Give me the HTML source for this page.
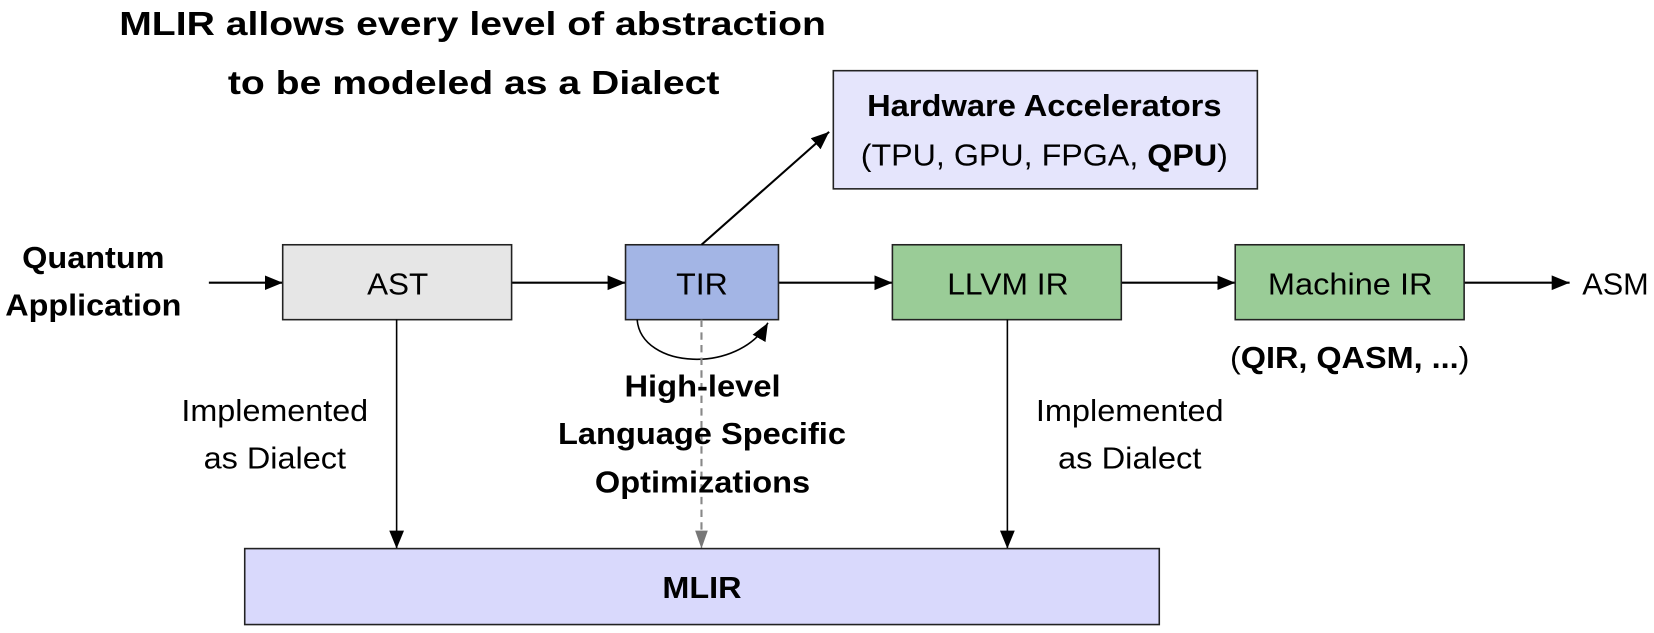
<!DOCTYPE html>
<html><head><meta charset="utf-8"><style>
html,body{margin:0;padding:0;background:#fff;}
svg{display:block;}
text{font-family:"Liberation Sans",Arial,sans-serif;fill:#000;}
</style></head><body>
<svg width="1654" height="633" viewBox="0 0 1568 600" preserveAspectRatio="none" xmlns="http://www.w3.org/2000/svg">
<defs>
<marker id="b" markerWidth="18" markerHeight="18" refX="17" refY="9" orient="auto" markerUnits="userSpaceOnUse" viewBox="0 0 18 18"><path d="M0,2 L17,9 L0,16 z" fill="#000"/></marker>
<marker id="g" markerWidth="18" markerHeight="18" refX="17" refY="9" orient="auto" markerUnits="userSpaceOnUse" viewBox="0 0 18 18"><path d="M0,3 L17,9 L0,15 z" fill="#777"/></marker>
</defs>
<g font-size="29" lengthAdjust="spacingAndGlyphs">
<text x="113" y="33" font-size="32" font-weight="bold" textLength="670" lengthAdjust="spacingAndGlyphs">MLIR allows every level of abstraction</text>
<text x="216" y="89" font-size="32" font-weight="bold" textLength="466" lengthAdjust="spacingAndGlyphs">to be modeled as a Dialect</text>

<rect x="790" y="67" width="402" height="112" fill="#e5e5fc" stroke="#222" stroke-width="1.5"/>
<text x="822" y="110" font-weight="bold" textLength="336" lengthAdjust="spacingAndGlyphs">Hardware Accelerators</text>
<text x="816" y="157" textLength="348" lengthAdjust="spacingAndGlyphs">(TPU, GPU, FPGA, <tspan font-weight="bold">QPU</tspan>)</text>

<text x="21" y="254" font-weight="bold" textLength="135" lengthAdjust="spacingAndGlyphs">Quantum</text>
<text x="5" y="299" font-weight="bold" textLength="167" lengthAdjust="spacingAndGlyphs">Application</text>

<line x1="198" y1="268" x2="268" y2="268" stroke="#000" stroke-width="2" marker-end="url(#b)"/>
<line x1="485" y1="268" x2="593" y2="268" stroke="#000" stroke-width="2" marker-end="url(#b)"/>
<line x1="738" y1="268" x2="846" y2="268" stroke="#000" stroke-width="2" marker-end="url(#b)"/>
<line x1="1063" y1="268" x2="1171" y2="268" stroke="#000" stroke-width="2" marker-end="url(#b)"/>
<line x1="1388" y1="268" x2="1488" y2="268" stroke="#000" stroke-width="2" marker-end="url(#b)"/>

<rect x="268" y="232" width="217" height="71" fill="#e6e6e6" stroke="#222" stroke-width="1.5"/>
<text x="348" y="279" textLength="58" lengthAdjust="spacingAndGlyphs">AST</text>
<rect x="593" y="232" width="145" height="71" fill="#a3b5e5" stroke="#222" stroke-width="1.5"/>
<text x="641" y="279" textLength="49" lengthAdjust="spacingAndGlyphs">TIR</text>
<rect x="846" y="232" width="217" height="71" fill="#9acc97" stroke="#222" stroke-width="1.5"/>
<text x="898" y="279" textLength="115" lengthAdjust="spacingAndGlyphs">LLVM IR</text>
<rect x="1171" y="232" width="217" height="71" fill="#9acc97" stroke="#222" stroke-width="1.5"/>
<text x="1202" y="279" textLength="156" lengthAdjust="spacingAndGlyphs">Machine IR</text>
<text x="1500" y="279" textLength="63" lengthAdjust="spacingAndGlyphs">ASM</text>

<text x="1166" y="349" textLength="227" lengthAdjust="spacingAndGlyphs">(<tspan font-weight="bold">QIR, QASM, ...</tspan>)</text>

<line x1="665" y1="232" x2="786" y2="125" stroke="#000" stroke-width="2" marker-end="url(#b)"/>
<path d="M604,303 C608,350 700,355 728,306" fill="none" stroke="#000" stroke-width="1.5" marker-end="url(#b)"/>

<line x1="665" y1="303" x2="665" y2="520" stroke="#888" stroke-width="2" stroke-dasharray="7,5" marker-end="url(#g)"/>
<line x1="376" y1="303" x2="376" y2="520" stroke="#000" stroke-width="1.5" marker-end="url(#b)"/>
<line x1="955" y1="303" x2="955" y2="520" stroke="#000" stroke-width="1.5" marker-end="url(#b)"/>

<text x="172" y="399" textLength="177" lengthAdjust="spacingAndGlyphs">Implemented</text>
<text x="193" y="444" textLength="135" lengthAdjust="spacingAndGlyphs">as Dialect</text>
<text x="982" y="399" textLength="178" lengthAdjust="spacingAndGlyphs">Implemented</text>
<text x="1003" y="444" textLength="136" lengthAdjust="spacingAndGlyphs">as Dialect</text>

<text x="592" y="376" font-weight="bold" textLength="148" lengthAdjust="spacingAndGlyphs">High-level</text>
<text x="529" y="421" font-weight="bold" textLength="273" lengthAdjust="spacingAndGlyphs">Language Specific</text>
<text x="564" y="467" font-weight="bold" textLength="204" lengthAdjust="spacingAndGlyphs">Optimizations</text>

<rect x="232" y="520" width="867" height="72" fill="#d9d9fc" stroke="#222" stroke-width="1.5"/>
<text x="628" y="567" font-weight="bold" textLength="75" lengthAdjust="spacingAndGlyphs">MLIR</text>
</g>
</svg>
</body></html>
